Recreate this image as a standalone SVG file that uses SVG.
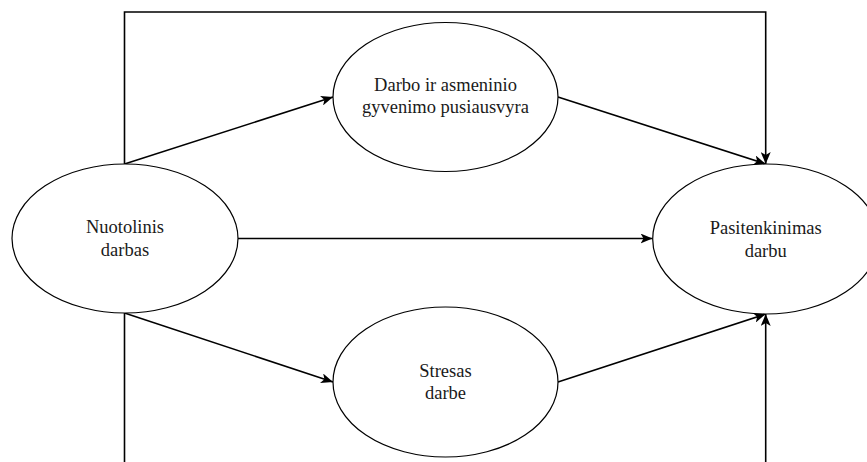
<svg xmlns="http://www.w3.org/2000/svg" width="867" height="462" viewBox="0 0 867 462">
  <style>
    .node ellipse { fill: #ffffff; stroke: #000000; stroke-width: 1.2; }
    .node text { font-family: "Liberation Serif", "Times New Roman", serif; font-size: 18.5px; fill: #1a1a1a; text-anchor: middle; }
    .edge { fill: none; stroke: #000000; stroke-width: 1.6; }
  </style>
  <defs>
    <marker id="arrow" viewBox="0 0 12 10" refX="12" refY="5" markerWidth="12" markerHeight="10" markerUnits="userSpaceOnUse" orient="auto">
      <path d="M0,0 L12,5 L0,10 L3,5 Z" fill="#000000"/>
    </marker>
  </defs>

  <rect width="867" height="462" fill="#ffffff"/>

  <g id="connectors">
    <!-- Remote work -> job satisfaction, routed over the top -->
    <polyline class="edge" points="124.5,164 124.5,12 765.7,12 765.7,164" marker-end="url(#arrow)"/>
    <!-- Remote work -> work-life balance -->
    <line class="edge" x1="124.5" y1="164" x2="333" y2="97" marker-end="url(#arrow)"/>
    <!-- Work-life balance -> job satisfaction -->
    <line class="edge" x1="558" y1="97" x2="765.7" y2="164" marker-end="url(#arrow)"/>
    <!-- Remote work -> job satisfaction, direct -->
    <line class="edge" x1="238" y1="238.5" x2="652.5" y2="238.5" marker-end="url(#arrow)"/>
    <!-- Remote work -> stress -->
    <line class="edge" x1="124.5" y1="313" x2="333" y2="382" marker-end="url(#arrow)"/>
    <!-- Stress -> job satisfaction -->
    <line class="edge" x1="558" y1="382" x2="765.7" y2="314" marker-end="url(#arrow)"/>
    <!-- Routed along the bottom -->
    <line class="edge" x1="124.5" y1="313" x2="124.5" y2="470"/>
    <line class="edge" x1="765.7" y1="470" x2="765.7" y2="314" marker-end="url(#arrow)"/>
  </g>

  <g id="remote-work" class="node">
    <ellipse cx="125" cy="238.5" rx="113" ry="74.5"/>
    <text x="125" y="233">Nuotolinis</text>
    <text x="125" y="256">darbas</text>
  </g>

  <g id="work-life-balance" class="node">
    <ellipse cx="445.5" cy="97" rx="112.5" ry="74.5"/>
    <text x="445.5" y="91">Darbo ir asmeninio</text>
    <text x="445.5" y="113">gyvenimo pusiausvyra</text>
  </g>

  <g id="job-satisfaction" class="node">
    <ellipse cx="765.7" cy="239" rx="113" ry="75"/>
    <text x="765.7" y="234">Pasitenkinimas</text>
    <text x="765.7" y="257">darbu</text>
  </g>

  <g id="work-stress" class="node">
    <ellipse cx="445.5" cy="382" rx="112.5" ry="75"/>
    <text x="445.5" y="377">Stresas</text>
    <text x="445.5" y="399">darbe</text>
  </g>
</svg>
